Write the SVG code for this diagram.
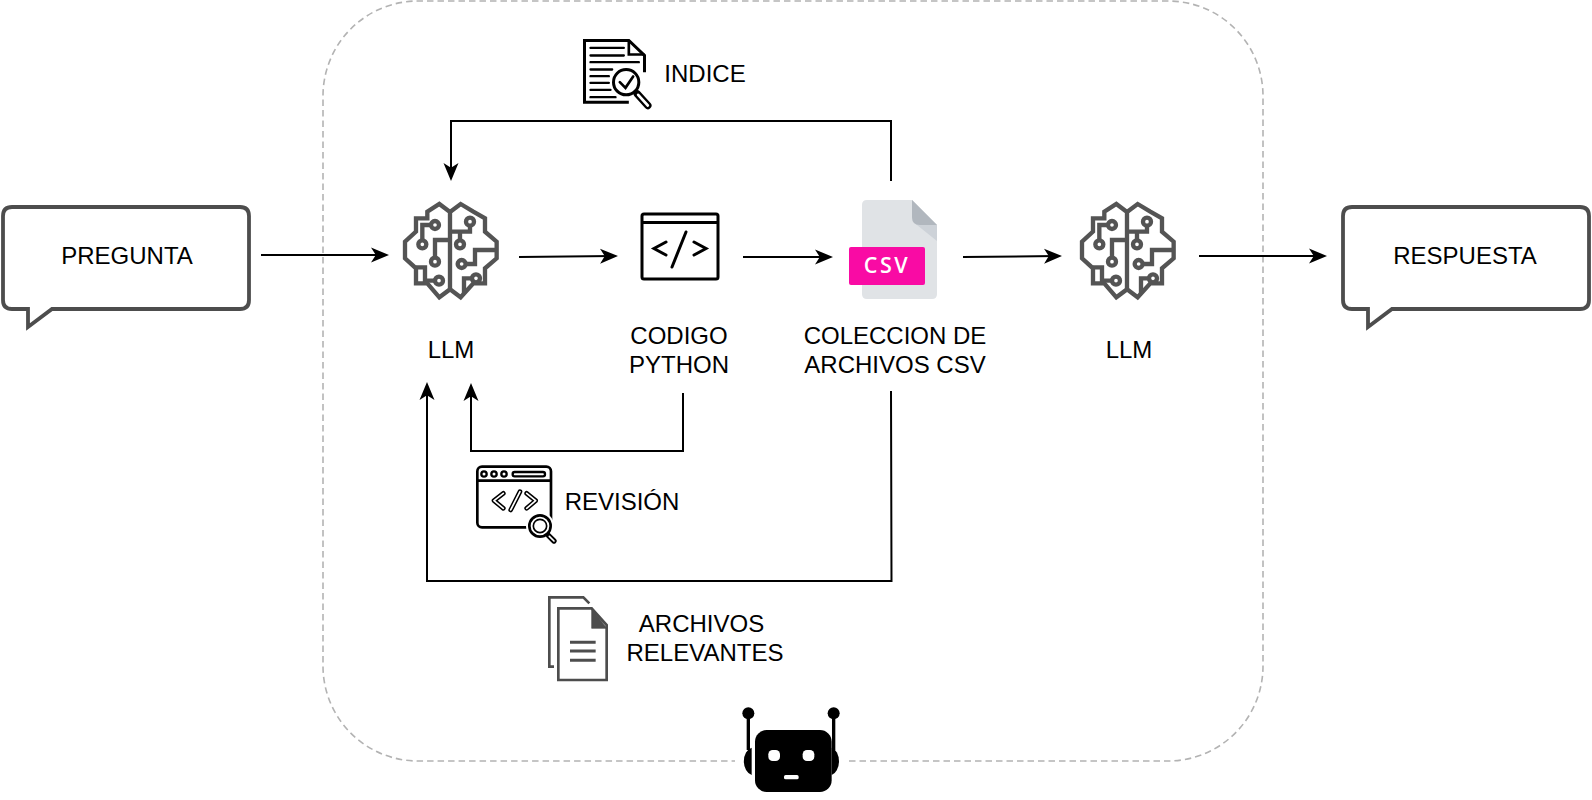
<svg xmlns="http://www.w3.org/2000/svg" width="1592" height="800" viewBox="0 0 1592 800">
<style>
text{font-family:"Liberation Sans",Arial,sans-serif;font-size:24px;fill:#000;text-anchor:middle}
.c{fill:none;stroke:#000;stroke-width:2;marker-end:url(#arr)}
.bub{fill:#fff;stroke:#4d4d4d;stroke-width:3.8;stroke-linejoin:miter}
.b{fill:none;stroke:#545454;stroke-width:13;stroke-linejoin:miter}
.ln{fill:none;stroke:#000;stroke-linecap:round}
</style>
<defs>
<marker id="arr" markerUnits="userSpaceOnUse" markerWidth="20" markerHeight="18" viewBox="0 0 20 18" refX="13" refY="9" orient="auto"><path d="M0,1.500 L18,9 L0,16.500 L4.800,9 Z" fill="#000"/></marker>
<g id="brain"><g transform="scale(.3333)">
<path class="b" d="M180,66 L148,42 L112,65 V85 H78 V125 L45,155 V205 L78,235 V280 H112 L148,322 L180,298 Z"/>
<path class="b" d="M180,66 L212,42 L250,65 L285,85 V125 L320,155 V205 L285,235 V280 H250 L212,322 L180,298"/>
<g class="b">
<circle cx="135" cy="105" r="12"/><path d="M123,105 H97 V150"/><circle cx="97" cy="163" r="12"/>
<circle cx="135" cy="215" r="12"/><path d="M135,203 V150 H178"/>
<circle cx="147" cy="272" r="12"/><path d="M135,272 H105 V232 H78"/>
<circle cx="240" cy="95" r="12"/><path d="M240,107 V125 H180"/><circle cx="210" cy="163" r="12"/><path d="M210,150 V125"/>
<circle cx="215" cy="222" r="12"/><path d="M228,222 H255 V180 H320"/>
<circle cx="258" cy="265" r="12"/><path d="M245,265 H222 V310"/>
</g></g></g>
</defs>

<path id="container" d="M849,761 H1168 A95,95 0 0 0 1263,666 V96 A95,95 0 0 0 1168,1 H418 A95,95 0 0 0 323,96 V666 A95,95 0 0 0 418,761 H735" fill="none" stroke="#b3b3b3" stroke-width="1.6" stroke-dasharray="6.5 4"/>

<g id="connectors">
<path class="c" d="M261,255 H384"/>
<path class="c" d="M519,257 L613,256"/>
<path class="c" d="M743,257 H828"/>
<path class="c" d="M963,257 L1057,256"/>
<path class="c" d="M1199,256 H1322"/>
<path class="c" d="M891,181 V121 H451 V176"/>
<path class="c" d="M683,393 V451 H471 L471,388"/>
<path class="c" d="M891,391 L891.5,581 H427 V387"/>
</g>

<g id="pregunta">
<path class="bub" d="M12,207 H240 Q249,207 249,216 V300 Q249,309 240,309 H52 L28,327 V309 H12 Q3,309 3,300 V216 Q3,207 12,207 Z"/>
<text x="127" y="264">PREGUNTA</text>
</g>
<g id="respuesta">
<path class="bub" d="M1352,207 H1580 Q1589,207 1589,216 V300 Q1589,309 1580,309 H1392 L1368,327 V309 H1352 Q1343,309 1343,300 V216 Q1343,207 1352,207 Z"/>
<text x="1465" y="264">RESPUESTA</text>
</g>

<g id="llm1"><use href="#brain" x="390" y="190"/><text x="451" y="358">LLM</text></g>
<g id="llm2"><use href="#brain" x="1067" y="190"/><text x="1129" y="358">LLM</text></g>

<g id="codigo">
<rect x="642" y="214" width="76" height="65" rx="2" fill="none" stroke="#000" stroke-width="3"/>
<path d="M642,222.500 H718" fill="none" stroke="#000" stroke-width="3"/>
<path class="ln" stroke-width="3" d="M666,242 L654,248.500 L666,255 M694,242 L706,248.500 L694,255 M686,232 L672,267"/>
<text x="679" y="344">CODIGO</text><text x="679" y="373">PYTHON</text>
</g>

<g id="csv">
<path d="M867,200 H912 L937,226 V294 Q937,299 932,299 H867 Q862,299 862,294 V205 Q862,200 867,200 Z" fill="#e0e3e6"/>
<path d="M912,200 L937,225 L937,241 L917,225 Q912,222 912,217 Z" fill="#cdd2d8"/>
<path d="M912,200 L937,225 H920 Q912,225 912,217 Z" fill="#b1b7be"/>
<rect x="849" y="247" width="76" height="38" rx="2" fill="#f90ba4"/>
<text x="887" y="273" style="font-family:'Open Sans','DejaVu Sans',sans-serif;font-size:21.5px;font-weight:600;fill:#fff;letter-spacing:2.500px">CSV</text>
<text x="895" y="344">COLECCION DE</text><text x="895" y="373">ARCHIVOS CSV</text>
</g>

<g id="indice">
<g transform="translate(570.500,30.500) scale(.3333)">
<path d="M222,125 V75 L175,30 H42 V215 H175" fill="none" stroke="#000" stroke-width="9"/>
<path d="M175,30 V72 H222" fill="none" stroke="#000" stroke-width="8"/>
<path class="ln" stroke-width="7" d="M60,52 H160 M60,75 H160 M60,95 H205 M60,117 H125 M60,137 H115 M60,157 H115 M60,178 H120 M60,200 H135"/>
<circle cx="167" cy="155" r="38" fill="#fff" stroke="#000" stroke-width="9"/>
<path class="ln" stroke-width="8" d="M148,155 L165,172 L188,138"/>
<path d="M200,190 L232,225" stroke="#000" stroke-width="22" stroke-linecap="round"/>
<path d="M203,193 L232,225" stroke="#fff" stroke-width="8" stroke-linecap="round"/>
</g>
<text x="705" y="82">INDICE</text>
</g>

<g id="revision">
<g transform="translate(470,460) scale(.3333)">
<rect x="22" y="20" width="221" height="182" rx="14" fill="#fff" stroke="#000" stroke-width="8"/>
<path d="M22,62 H243" stroke="#000" stroke-width="8"/>
<g fill="#fff" stroke="#000" stroke-width="7"><circle cx="42" cy="42" r="8"/><circle cx="72" cy="42" r="8"/><circle cx="102" cy="42" r="8"/><rect x="128" y="36" width="97" height="13" rx="6"/></g>
<path class="ln" stroke-width="14" stroke-linejoin="round" d="M100,100 L72,122 L100,145 M170,100 L197,122 L170,145 M150,95 L122,150"/>
<path d="M100,100 L72,122 L100,145 M170,100 L197,122 L170,145 M150,95 L122,150" fill="none" stroke="#fff" stroke-width="5" stroke-linecap="round" stroke-linejoin="round"/>
<circle cx="210" cy="198" r="42" fill="#fff"/>
<circle cx="210" cy="198" r="32" fill="#fff" stroke="#000" stroke-width="8"/>
<circle cx="210" cy="198" r="20" fill="none" stroke="#000" stroke-width="5"/>
<path d="M235,226 L252,243" stroke="#000" stroke-width="16" stroke-linecap="round"/>
<path d="M238,229 L252,243" stroke="#fff" stroke-width="5" stroke-linecap="round"/>
</g>
<text x="622" y="510">REVISIÓN</text>
</g>

<g id="archivos">
<g transform="translate(540,590) scale(.3333)" fill="none" stroke="#4d4d4d">
<path d="M42,230 H28 V22 H130 L148,40" stroke-width="8"/>
<path d="M55,55 H155 L200,105 V270 H55 Z" fill="#fff" stroke-width="8"/>
<path d="M155,55 L200,115 H155 Z" fill="#4d4d4d" stroke-width="2"/>
<path d="M90,157 H167 M90,183 H167 M90,211 H167" stroke-width="9"/>
</g>
<text x="701.500" y="632">ARCHIVOS</text><text x="705" y="661">RELEVANTES</text>
</g>

<g id="robot">
<g transform="translate(730,700) scale(.3333)" fill="#000">
<path d="M65,143 A30,42 0 0 0 65,225 Z"/>
<path d="M305,143 A28,42 0 0 1 305,225 Z"/>
<path d="M55,40 V150 M311,40 V150" stroke="#000" stroke-width="10"/>
<circle cx="55" cy="40" r="18"/><circle cx="311" cy="40" r="18"/>
<rect x="75" y="90" width="230" height="186" rx="35"/>
<rect x="115" y="150" width="35" height="33" rx="13" fill="#fff"/>
<rect x="218" y="150" width="35" height="33" rx="13" fill="#fff"/>
<rect x="162" y="225" width="44" height="13" rx="5" fill="#fff"/>
</g>
</g>
</svg>
